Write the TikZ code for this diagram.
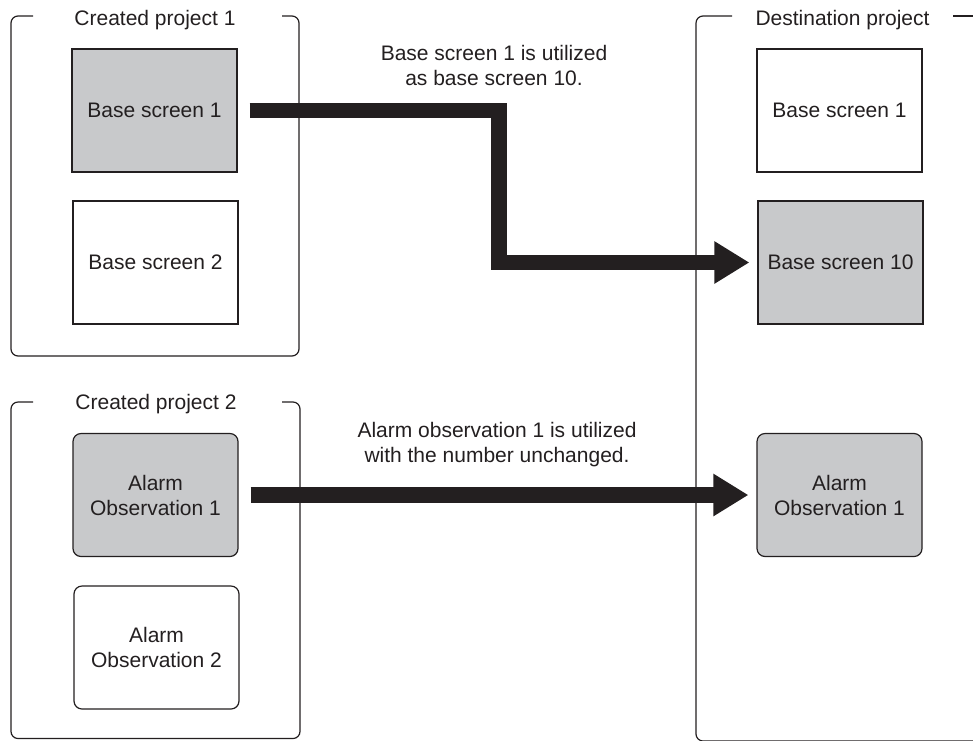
\documentclass[tikz,border=0pt]{standalone}
\usepackage{fontspec}
\setmainfont{Liberation Sans}
\usetikzlibrary{arrows.meta}

\definecolor{inkblack}{HTML}{231F20}
\definecolor{pickgray}{HTML}{C8C9CB}

\tikzset{
  screen/.style={shape=rectangle, draw=inkblack, line width=1.2pt, minimum width=165pt,
                 minimum height=123pt, inner sep=0pt, align=center, text=inkblack,
                 font=\fontsize{21}{25}\selectfont},
  alarm/.style={screen, rounded corners=8pt},
  picked/.style={fill=pickgray},
  caption/.style={align=center, inner sep=0pt, text=inkblack, font=\fontsize{21}{25}\selectfont},
  frame/.style={draw=inkblack, line width=1.2pt, rounded corners=7pt},
  bigarrow/.style={draw=inkblack, line width=15.5pt, -{Triangle[width=40pt, length=35pt]},
                   shorten <=12pt, shorten >=8pt}
}

\begin{document}
\begin{tikzpicture}[x=1pt, y=-1pt]
  \useasboundingbox (0, 0) rectangle (973, 740);

  % created project 1
  \node[screen, picked] (src1) at (154.5, 110.5) {Base screen 1};
  \node[screen] (src2) at (155.5, 262.5) {Base screen 2};
  \node[caption, anchor=base] (title1) at (155, 25) {Created project 1};

  % created project 2
  \node[alarm, picked] (alm1) at (155.5, 495) {Alarm\\Observation 1};
  \node[alarm] (alm2) at (156.5, 647.5) {Alarm\\Observation 2};
  \node[caption, anchor=base] (title2) at (156, 409.5) {Created project 2};

  % destination project
  \node[screen] (dst1) at (839.5, 110.5) {Base screen 1};
  \node[screen, picked] (dst10) at (840.5, 262.5) {Base screen 10};
  \node[alarm, picked] (dstalm) at (839.5, 495) {Alarm\\Observation 1};
  \node[caption, anchor=base] (title3) at (842.5, 25) {Destination project};

  % arrows
  \coordinate (bend) at (499, 186);
  \draw[bigarrow] (src1.east) -| (bend) |- (dst10.west);
  \draw[bigarrow] (alm1.east) to (dstalm.west);

  \node[caption, anchor=north] (note1) at (494, 44.7) {Base screen 1 is utilized\\as base screen 10.};
  \node[caption, anchor=north] (note2) at (497, 421.7) {Alarm observation 1 is utilized\\with the number unchanged.};

  % frames
  \draw[frame] (33, 16) -- (11, 16) -- (11, 356) -- (299, 356) -- (299, 16) -- (282, 16);
  \draw[frame] (33, 402) -- (11, 402) -- (11, 738.5) -- (300, 738.5) -- (300, 402) -- (282, 402);
  \begin{scope}
    \clip (0, 0) rectangle (973, 740);
    \draw[frame] (732, 16) -- (696, 16) -- (696, 741) -- (990, 741);
    \draw[frame] (953, 16) -- (990, 16);
  \end{scope}
\end{tikzpicture}
\end{document}
